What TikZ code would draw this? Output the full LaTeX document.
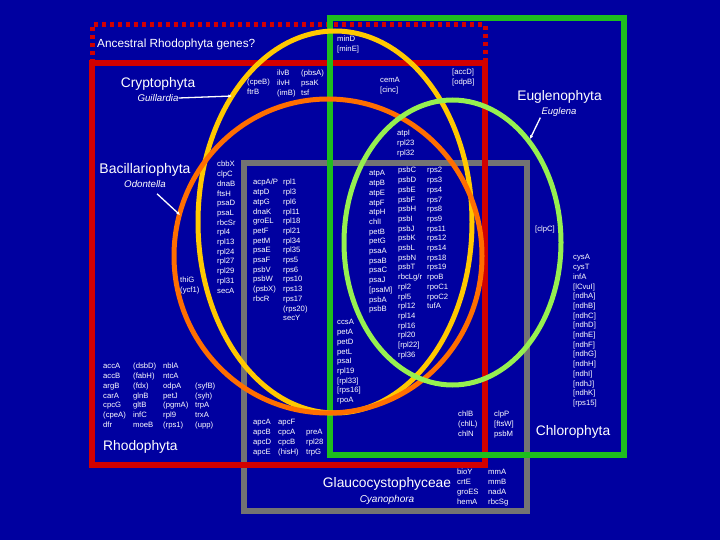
\documentclass[tikz,border=0pt]{standalone}
\usepackage{fontspec}
\setmainfont{Liberation Sans}
\usetikzlibrary{arrows.meta}
\definecolor{bgblue}{RGB}{0,0,160}
\definecolor{rhodored}{RGB}{210,0,0}
\definecolor{chlgreen}{RGB}{30,190,30}
\definecolor{glaugrey}{RGB}{115,115,115}
\definecolor{cryyellow}{RGB}{255,200,0}
\definecolor{bacorange}{RGB}{255,110,0}
\definecolor{eugreen}{RGB}{150,240,80}
\newcommand\genecol[4]{\foreach \g [count=\i from 0] in {#4} {\node[gene] (#1\i) at ({#2},{#3+9.7*\i}) {\g};}}
\begin{document}
\begin{tikzpicture}[x=1pt,y=-1pt,
  gene/.style={anchor=west, inner sep=0pt, text=white, font=\fontsize{7.7}{9}\selectfont, text height=5.3pt, text depth=1.4pt},
  big/.style={text=white, inner sep=0pt, font=\fontsize{13.8}{16}\selectfont},
  sub/.style={text=white, inner sep=0pt, font=\fontsize{9.7}{12}\selectfont\itshape},
  ptr/.style={white, line width=1.3pt, -{Latex[length=3.5pt,width=3.5pt]}},
  border/.style={line width=5.5pt}]
\fill[bgblue] (0,0) rectangle (720,540);
\useasboundingbox (0,0) rectangle (720,540);
% frames
\draw[glaugrey, border] (244,163) rectangle (527,511);
\draw[rhodored, border, line width=6pt] (92,63) rectangle (485,465);
\draw[rhodored, line width=5pt, dash pattern=on 4pt off 4pt] (92,63) -- (92,25) -- (485,25) -- (485,63);
\draw[chlgreen, border] (330,18) rectangle (624,455);
% ellipses
\draw[cryyellow, line width=5pt] (335,222) ellipse [x radius=137pt, y radius=191pt];
\draw[bacorange, line width=5pt] (328,256) ellipse [x radius=154pt, y radius=157pt];
\draw[eugreen, line width=5pt] (452.5,242.5) ellipse [x radius=108.5pt, y radius=142.5pt];
% titles
\node[text=white, inner sep=0pt, anchor=west, font=\fontsize{11.8}{14}\selectfont] (anc) at (97,44) {Ancestral Rhodophyta genes?};
\node[big] (crypto) at (158,84) {Cryptophyta};
\node[sub] (guil) at (158,98) {Guillardia};
\node[big, font=\fontsize{14}{16}\selectfont] (bacil) at (145,170) {Bacillariophyta};
\node[sub] (odon) at (145,184) {Odontella};
\node[big, anchor=west] (rhodo) at (103,447) {Rhodophyta};
\node[big] (eugl) at (559.5,97) {Euglenophyta};
\node[sub, font=\fontsize{9.5}{12}\selectfont\itshape] (euglena) at (559,112) {Euglena};
\node[big] (chloro) at (573,432) {Chlorophyta};
\node[big] (glauco) at (387,484) {Glaucocystophyceae};
\node[sub, font=\fontsize{10}{12}\selectfont\itshape] (cyano) at (387,500) {Cyanophora};
% pointers
\coordinate (gtip) at (232,96);
\coordinate (otip) at (180,215);
\coordinate (etip) at (530,139);
\draw[ptr] (guil.east) -- (gtip);
\draw[ptr] (odon.south) ++(12,6) coordinate (ostart) -- (otip);
\draw[ptr] (euglena.south west) ++(-1,1) coordinate (estart) -- (etip);
% gene lists
\genecol{mn}{337}{40}{minD,{[minE]}}
\genecol{cp}{247}{83}{(cpeB),ftrB}
\genecol{il}{277}{74}{ilvB,ilvH,(imB)}
\genecol{pb}{301}{74}{(pbsA),psaK,tsf}
\genecol{ce}{380}{81}{cemA,{[cinc]}}
\genecol{ac}{452}{73}{{[accD]},{[odpB]}}
\genecol{at}{397}{134}{atpI,rpl23,rpl32}
\genecol{ca}{369}{174}{atpA,atpB,atpE,atpF,atpH,chlI,petB,petG,psaA,psaB,psaC,psaJ,{[psaM]},psbA,psbB}
\genecol{cb}{398}{171}{psbC,psbD,psbE,psbF,psbH,psbI,psbJ,psbK,psbL,psbN,psbT,rbcLg/r,rpl2,rpl5,rpl12,rpl14,rpl16,rpl20,{[rpl22]},rpl36}
\genecol{cc}{427}{171}{rps2,rps3,rps4,rps7,rps8,rps9,rps11,rps12,rps14,rps18,rps19,rpoB,rpoC1,rpoC2,tufA}
\genecol{cs}{337}{323}{ccsA,petA,petD,petL,psaI,rpl19,{[rpl33]},{[rps16]},rpoA}
\genecol{ba}{217}{165}{cbbX,clpC,dnaB,ftsH,psaD,psaL,rbcSr,rpl4,rpl13,rpl24,rpl27,rpl29,rpl31,secA}
\genecol{th}{180}{281}{thiG,(ycf1)}
\genecol{ma}{253}{183}{acpA/P,atpD,atpG,dnaK,groEL,petF,petM,psaE,psaF,psbV,psbW,(psbX),rbcR}
\genecol{mb}{283}{183}{rpl1,rpl3,rpl6,rpl11,rpl18,rpl21,rpl34,rpl35,rps5,rps6,rps10,rps13,rps17,(rps20),secY}
\genecol{ra}{103}{367}{accA,accB,argB,carA,cpcG,(cpeA),dfr}
\genecol{rb}{133}{367}{(dsbD),(fabH),(fdx),glnB,gltB,infC,moeB}
\genecol{rc}{163}{367}{nblA,ntcA,odpA,petJ,(pgmA),rpl9,(rps1)}
\genecol{rd}{195}{386.4}{(syfB),(syh),trpA,trxA,(upp)}
\genecol{ga}{253}{423}{apcA,apcB,apcD,apcE}
\genecol{gb}{278}{423}{apcF,cpcA,cpcB,(hisH)}
\genecol{gc}{306}{432.7}{preA,rpl28,trpG}
\genecol{nd}{573}{258}{cysA,cysT,infA,{[lCvuI]},{[ndhA]},{[ndhB]},{[ndhC]},{[ndhD]},{[ndhE]},{[ndhF]},{[ndhG]},{[ndhH]},{[ndhI]},{[ndhJ]},{[ndhK]},{[rps15]}}
\genecol{cl}{535}{230}{{[clpC]}}
\genecol{ch}{458}{415}{chlB,(chlL),chlN}
\genecol{cp2}{494}{415}{clpP,{[ftsW]},psbM}
\genecol{bi}{457}{473}{bioY,crtE,groES,hemA}
\genecol{mm}{488}{473}{mmA,mmB,nadA,rbcSg}
\end{tikzpicture}
\end{document}
